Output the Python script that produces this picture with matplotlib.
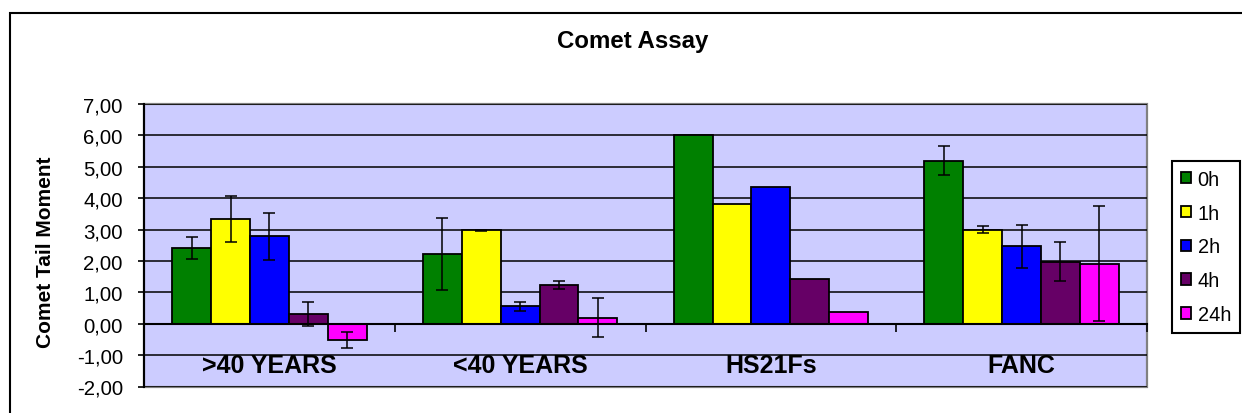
import matplotlib
matplotlib.use("Agg")
import matplotlib.pyplot as plt
import numpy as np
from matplotlib.patches import Rectangle
from matplotlib.ticker import FuncFormatter

plt.rcParams['font.family'] = ['Liberation Sans', 'DejaVu Sans']

# dane
grupy = [">40 YEARS", "<40 YEARS", "HS21Fs", "FANC"]
serie = ["0h", "1h", "2h", "4h", "24h"]
kolory = ["#008000", "#FFFF00", "#0000FF", "#660066", "#FF00FF"]

w_0h = [2.41, 2.23, 6.00, 5.20]
w_1h = [3.33, 2.97, 3.83, 3.00]
w_2h = [2.78, 0.55, 4.34, 2.47]
w_4h = [0.31, 1.23, 1.43, 1.98]
w_24h = [-0.51, 0.19, 0.36, 1.91]

e_0h = [0.36, 1.15, 0, 0.47]
e_1h = [0.74, 0.03, 0, 0.12]
e_2h = [0.74, 0.14, 0, 0.68]
e_4h = [0.37, 0.13, 0, 0.62]
e_24h = [0.25, 0.62, 0, 1.83]

wartosci = [w_0h, w_1h, w_2h, w_4h, w_24h]
bledy = [e_0h, e_1h, e_2h, e_4h, e_24h]

fig = plt.figure(figsize=(12.42, 4.14), dpi=100)
ax = fig.add_axes([144 / 1242, 1 - 387.5 / 414, 1003 / 1242, 282.5 / 414])

ax.set_facecolor("#CCCCFF")
ax.patch.set_edgecolor("#808080")
ax.patch.set_linewidth(1.6)

x = np.arange(len(grupy))
szer = 0.155
for i in range(len(serie)):
    pos = x + (i - 2) * szer
    ax.bar(pos, wartosci[i], szer, color=kolory[i], edgecolor="black",
           linewidth=1.3, label=serie[i], zorder=2)
    b = np.array(bledy[i])
    m = b > 0
    ax.errorbar(pos[m], np.array(wartosci[i])[m], yerr=b[m], fmt="none",
                ecolor="black", elinewidth=1.1, capsize=4.4, capthick=1.1, zorder=3)

ax.set_xlim(-0.5, 3.5)
ax.set_ylim(-2, 7)
ax.set_yticks(np.arange(-2, 8, 1))
ax.yaxis.set_major_formatter(FuncFormatter(lambda v, p: ("%.2f" % v).replace(".", ",")))
ax.yaxis.grid(True, color="black", linewidth=1.1)
ax.set_axisbelow(True)

ax.spines["top"].set_visible(False)
ax.spines["right"].set_visible(False)
ax.spines["left"].set_color("black")
ax.spines["left"].set_linewidth(1.5)
ax.spines["bottom"].set_position(("data", 0))
ax.spines["bottom"].set_color("black")
ax.spines["bottom"].set_linewidth(1.5)
ax.spines["bottom"].set_zorder(2.5)

ax.set_xticks([0.5, 1.5, 2.5, 3.5])
ax.set_xticklabels([])
ax.tick_params(axis="x", direction="out", length=5.5, width=1.2, color="black")
ax.tick_params(axis="y", direction="out", length=4.3, width=1.2, color="black",
               labelsize=14.7, pad=11)

for i, g in enumerate(grupy):
    ax.text(x[i], -1.54, g, ha="center", va="baseline", fontsize=18,
            fontweight="bold")

fig.text(633 / 1242, 1 - 48 / 414, "Comet Assay", ha="center", va="baseline",
         fontsize=17.3, fontweight="bold")
fig.text(46 / 1242, 1 - 252 / 414, "Comet Tail Moment", ha="center", va="center",
         rotation=90, fontsize=15, fontweight="bold")

leg = fig.legend(loc="upper left", bbox_to_anchor=(1171.7 / 1242, 1 - 161.7 / 414),
                 fontsize=14.4, handlelength=0.5, handleheight=0.5,
                 handletextpad=0.35, labelspacing=0.74, borderpad=0.45,
                 borderaxespad=0, fancybox=False, framealpha=1)
leg.get_frame().set_edgecolor("black")
leg.get_frame().set_linewidth(1.5)

# ramka calego wykresu
fig.add_artist(Rectangle((10 / 1242, -0.5), 2, 0.5 + 1 - 14 / 414,
                         transform=fig.transFigure, fill=False,
                         edgecolor="black", linewidth=1.5))

plt.savefig("out.png", dpi=100)
